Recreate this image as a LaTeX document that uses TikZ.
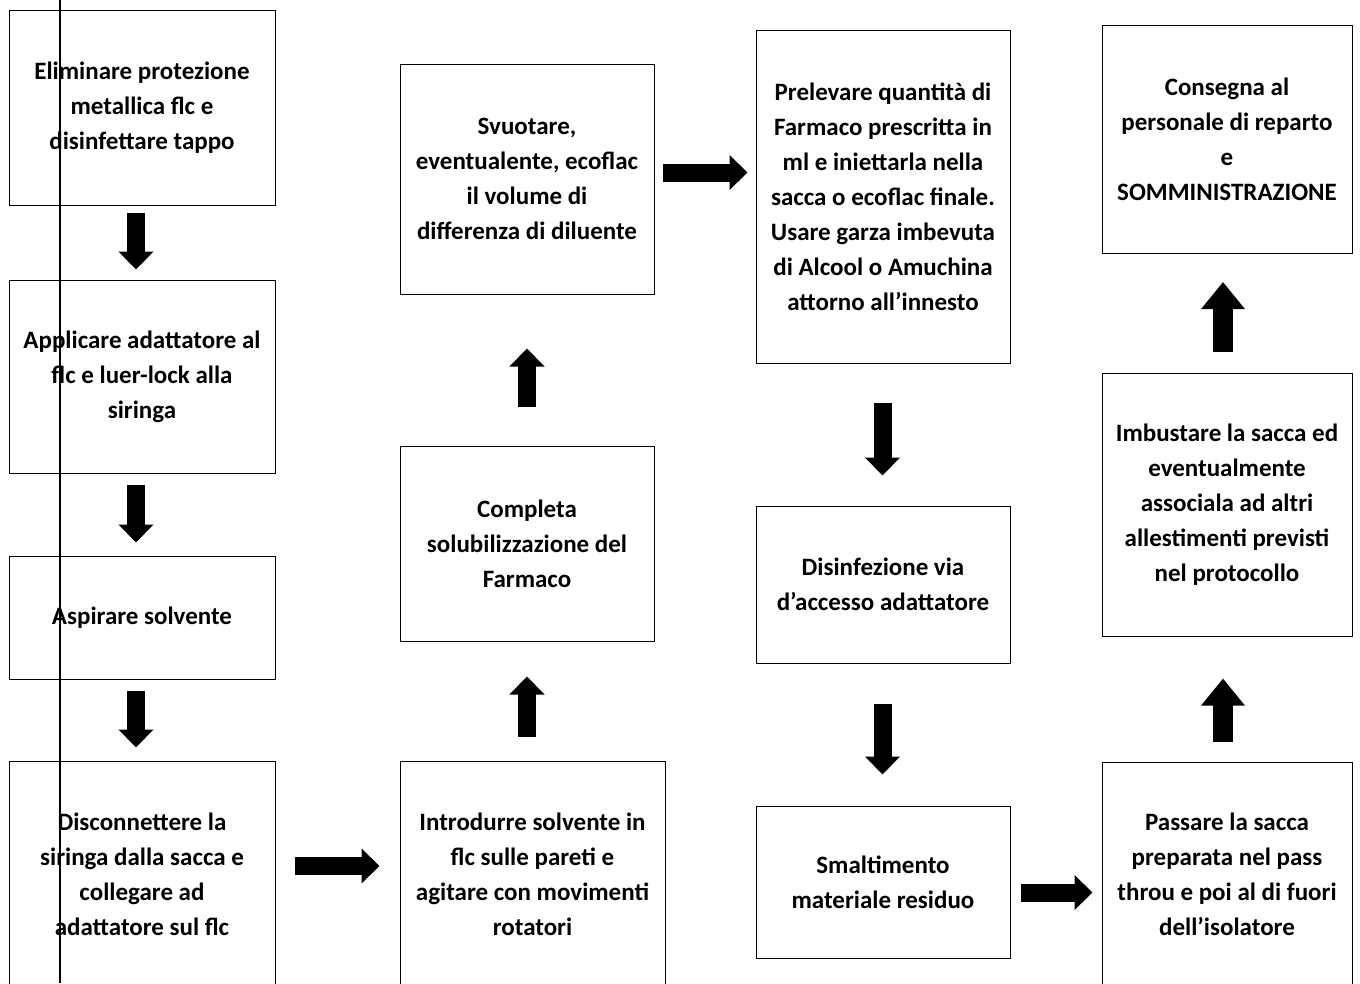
\documentclass[tikz,border=0pt]{standalone}
\usepackage{fontspec}
\setmainfont{Carlito}
\usetikzlibrary{arrows.meta}
\begin{document}
\begin{tikzpicture}[x=1pt,y=1pt,
  box/.style={draw=black,line width=1pt,rectangle,inner sep=0pt,align=center,
    font=\fontsize{25}{35}\selectfont\bfseries},
  blk/.style={line width=18pt,-{Triangle[length=18pt,width=34pt]}},
  bigblk/.style={line width=20pt,-{Triangle[length=27pt,width=42pt]}}]
\useasboundingbox (0,0) rectangle (1360,-983);
\clip (0,0) rectangle (1360,-983);
\fill[white] (0,0) rectangle (1360,-983);
% column 1
\node[box,minimum width=266pt,minimum height=195pt] (b1) at (142,-107.5)
  {Eliminare protezione\\metallica flc e\\disinfettare tappo};
\node[box,minimum width=266pt,minimum height=193pt] (b2) at (142,-376.5)
  {Applicare adattatore al\\flc e luer-lock alla\\siringa};
\node[box,minimum width=266pt,minimum height=123pt] (b3) at (142,-617.5)
  {Aspirare solvente};
\node[box,minimum width=266pt,minimum height=226pt] (b4) at (142,-874)
  {Disconnettere la\\siringa dalla sacca e\\collegare ad\\adattatore sul flc};
% column 2
\node[box,minimum width=265pt,minimum height=226pt] (b5) at (532.5,-874)
  {Introdurre solvente in\\flc sulle pareti e\\agitare con movimenti\\rotatori};
\node[box,minimum width=254pt,minimum height=195pt] (b6) at (527,-543.5)
  {Completa\\solubilizzazione del\\Farmaco};
\node[box,minimum width=254pt,minimum height=230pt] (b7) at (527,-179)
  {Svuotare,\\eventualente, ecoflac\\il volume di\\differenza di diluente};
% column 3
\node[box,minimum width=254pt,minimum height=333pt] (b8) at (883,-196.5)
  {Prelevare quantità di\\Farmaco prescritta in\\ml e iniettarla nella\\sacca o ecoflac finale.\\Usare garza imbevuta\\di Alcool o Amuchina\\attorno all’innesto};
\node[box,minimum width=254pt,minimum height=157pt] (b9) at (883,-584.5)
  {Disinfezione via\\d’accesso adattatore};
\node[box,minimum width=254pt,minimum height=152pt] (b10) at (883,-882)
  {Smaltimento\\materiale residuo};
% column 4
\node[box,minimum width=250pt,minimum height=225pt] (b11) at (1227,-874.5)
  {Passare la sacca\\preparata nel pass\\throu e poi al di fuori\\dell’isolatore};
\node[box,minimum width=250pt,minimum height=263pt] (b12) at (1227,-504.5)
  {Imbustare la sacca ed\\eventualmente\\associala ad altri\\allestimenti previsti\\nel protocollo};
\node[box,minimum width=250pt,minimum height=228pt] (b13) at (1227,-139.5)
  {Consegna al\\personale di reparto\\e\\SOMMINISTRAZIONE};
% connectors
\draw[blk,shorten <=7pt,shorten >=10pt] ([xshift=-6pt]b1.south) -- ([xshift=-6pt]b2.north);
\draw[blk,shorten <=11pt,shorten >=13pt] ([xshift=-6pt]b2.south) -- ([xshift=-6pt]b3.north);
\draw[blk,shorten <=11pt,shorten >=13pt] ([xshift=-6pt]b3.south) -- ([xshift=-6pt]b4.north);
\draw[blk,shorten <=19pt,shorten >=20pt] ([yshift=8pt]b4.east) -- ([yshift=8pt]b5.west);
\draw[blk,shorten <=24pt,shorten >=35pt] ([xshift=-5.5pt]b5.north) -- (b6.south);
\draw[blk,shorten <=39pt,shorten >=54pt] (b6.north) -- (b7.south);
\coordinate (ya) at (0,-172.5);
\draw[blk,shorten <=8pt,shorten >=8pt] (b7.east |- ya) -- (b8.west |- ya);
\draw[blk,shorten <=39pt,shorten >=30pt] ([xshift=-0.5pt]b8.south) -- ([xshift=-0.5pt]b9.north);
\draw[blk,shorten <=40pt,shorten >=31pt] ([xshift=-0.5pt]b9.south) -- ([xshift=-0.5pt]b10.north);
\coordinate (yb) at (0,-892.5);
\draw[blk,shorten <=10pt,shorten >=9pt] (b10.east |- yb) -- (b11.west |- yb);
\draw[bigblk,shorten <=20pt,shorten >=42pt] ([xshift=-4pt]b11.north) -- ([xshift=-4pt]b12.south);
\draw[bigblk,shorten <=21pt,shorten >=28pt] ([xshift=-4pt]b12.north) -- ([xshift=-4pt]b13.south);
% scan line
\coordinate (lt) at (60,0);
\coordinate (lb) at (60,-983);
\draw[line width=1.2pt] (lt) -- (lb);
\end{tikzpicture}
\end{document}
